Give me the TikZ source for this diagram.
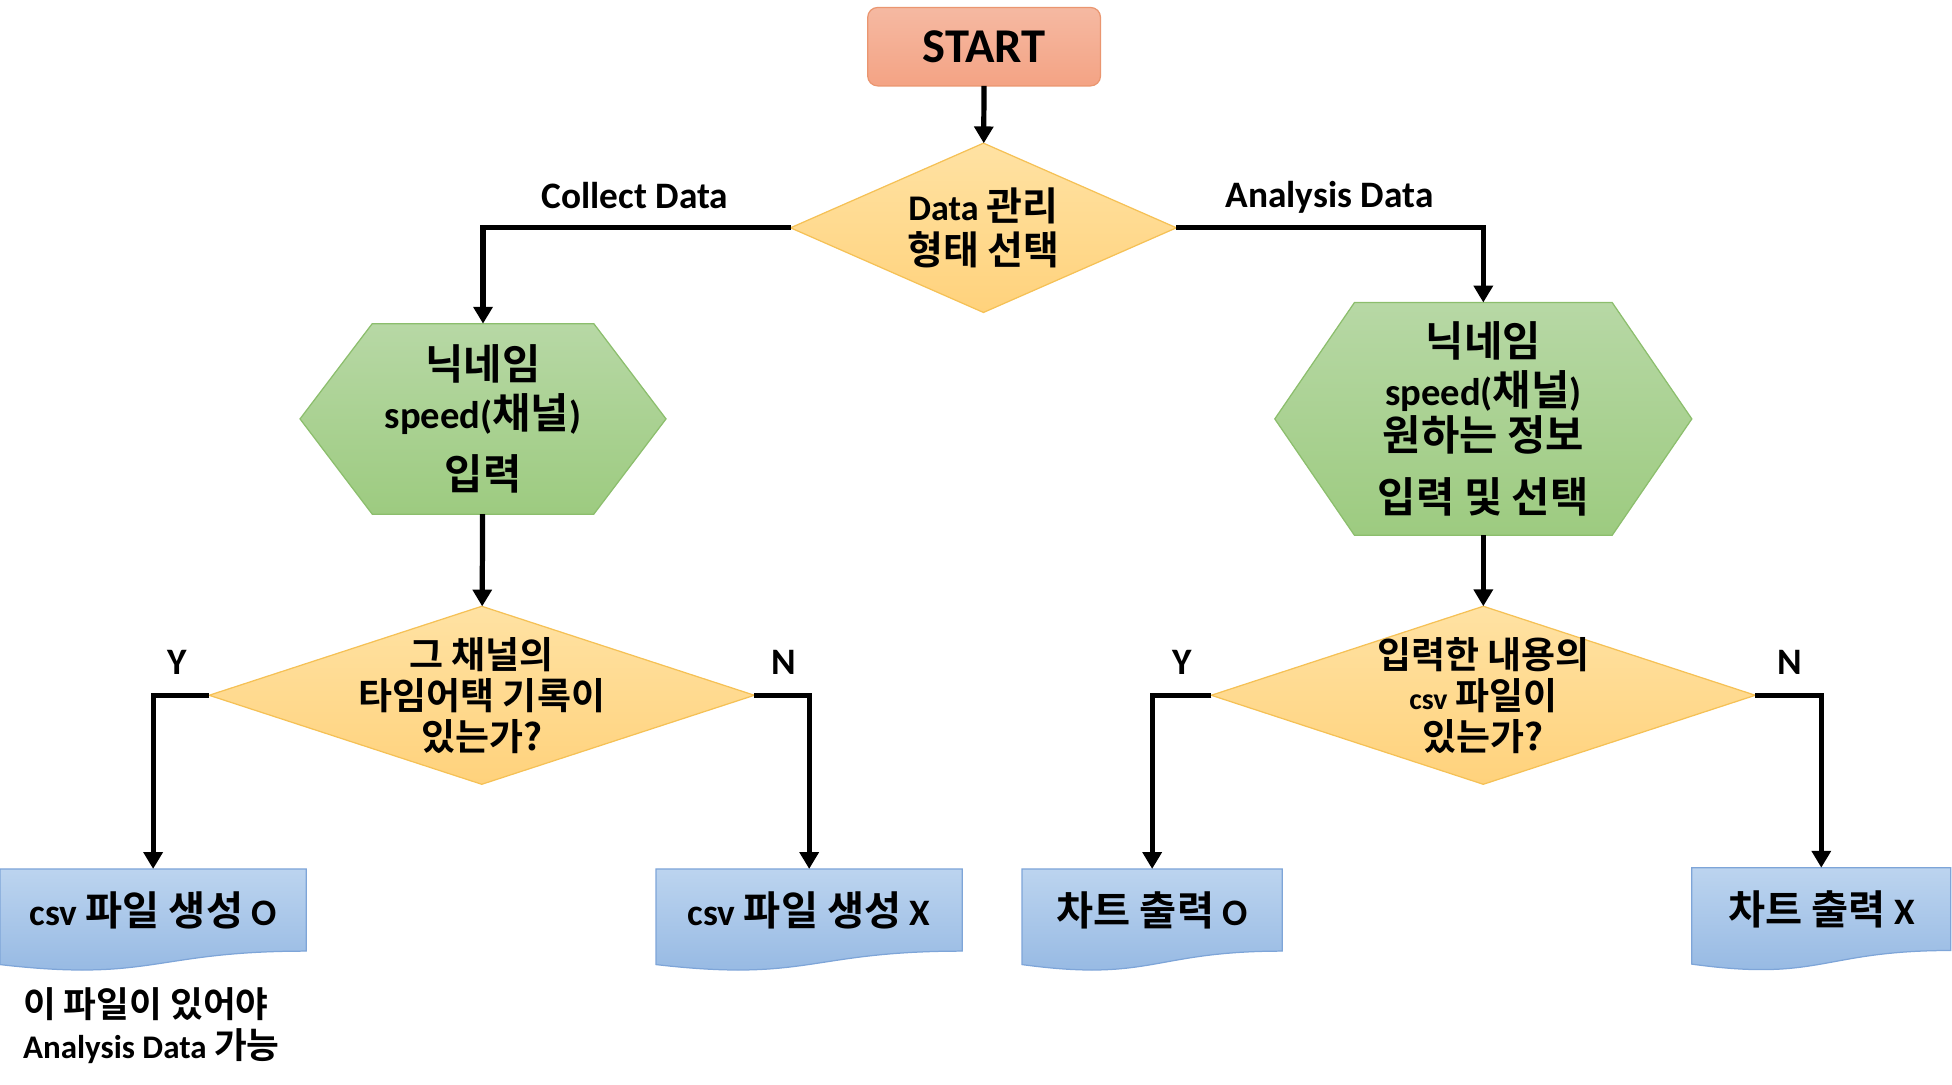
\documentclass[tikz,border=0pt]{standalone}
\usepackage{fontspec}
\setmainfont{Carlito Bold}
\newfontfamily\krfont{Noto Sans CJK KR Bold}[Scale=1.08]
\newcommand{\krt}[1]{{\krfont #1}}
\usetikzlibrary{arrows.meta, shapes.geometric, backgrounds, calc}

\definecolor{startT}{HTML}{F5B9A2}
\definecolor{startB}{HTML}{F4A384}
\definecolor{startD}{HTML}{EA9670}
\definecolor{decT}{HTML}{FFE2A3}
\definecolor{decB}{HTML}{FFD27C}
\definecolor{decD}{HTML}{F5C156}
\definecolor{hexT}{HTML}{B7D8A5}
\definecolor{hexB}{HTML}{9DCB80}
\definecolor{hexD}{HTML}{8CBE6D}
\definecolor{docT}{HTML}{BCD4EF}
\definecolor{docB}{HTML}{93B7E2}
\definecolor{docD}{HTML}{7EA5D8}

\tikzset{
  base/.style={inner sep=0pt, outer sep=0pt, line width=1pt},
  startbox/.style={base, rectangle, rounded corners=8pt, draw=startD, top color=startT, bottom color=startB,
    minimum width=187pt, minimum height=63pt, font=\fontsize{39}{41}\selectfont},
  decision/.style={base, diamond, draw=decD, top color=decT, bottom color=decB},
  dectext/.style={align=center, font=\fontsize{27.5}{33}\selectfont},
  hexbox/.style={base, rectangle, align=center, font=\fontsize{31}{39}\selectfont},
  hexfill/.style={line width=1pt, draw=hexD, top color=hexT, bottom color=hexB},
  docbox/.style={base, rectangle, font=\fontsize{30}{32}\selectfont},
  docfill/.style={line width=1pt, draw=docD, top color=docT, bottom color=docB},
  lbl/.style={font=\fontsize{30}{31}\selectfont},
  line/.style={line width=4.2pt},
  arrow/.style={line, -{Triangle[length=13.5pt, width=15pt]}}
}

% hexagon under a hexbox node: #1 node, #2 chamfer
\newcommand{\hexshape}[2]{%
  \begin{scope}[on background layer]
    \path[hexfill] ($(#1.north west)+(#2,0)$) -- ($(#1.north east)+(-#2,0)$) -- (#1.east)
      -- ($(#1.south east)+(-#2,0)$) -- ($(#1.south west)+(#2,0)$) -- (#1.west) -- cycle;
  \end{scope}}
% document shape under a docbox node: #1 node, #2 full height
\newcommand{\docshape}[2]{%
  \begin{scope}[on background layer]
    \path[docfill] (#1.north west) -- (#1.north east) -- (#1.south east)
      .. controls (#1.south) and ($(#1.south)+(0,#2*0.305)$) .. ($(#1.south west)+(0,#2*0.132)$) -- cycle;
  \end{scope}}

\begin{document}
\begin{tikzpicture}[x=1pt, y=-1pt]
  \useasboundingbox (0,0) rectangle (1568,871.5);

  \node[startbox] (start) at (790.5,37.5) {START};

  \node[decision, minimum width=310pt, minimum height=136pt,
    label={[dectext, font=\fontsize{29}{35}\selectfont]center:Data \krt{관리}\\\krt{형태 선택}}] (d1) at (790,183) {};

  \node[hexbox, minimum width=294pt, minimum height=153pt] (hex1) at (388,336.5)
    {\krt{닉네임}\\speed(\krt{채널})\\[10pt]\krt{입력}};
  \node[hexbox, minimum width=335pt, minimum height=187pt, font=\fontsize{31}{36}\selectfont] (hex2) at (1191.5,336.5)
    {\krt{닉네임}\\[3pt]speed(\krt{채널})\\\krt{원하는 정보}\\[14pt]\krt{입력 및 선택}};
  \hexshape{hex1}{58}
  \hexshape{hex2}{64}

  \node[decision, minimum width=438pt, minimum height=143pt,
    label={[dectext]center:\krt{그 채널의}\\\krt{타임어택 기록이}\\\krt{있는가?}}] (d2) at (387,558.5) {};
  \node[decision, minimum width=437pt, minimum height=143pt,
    label={[dectext]center:\krt{입력한 내용의}\\{\fontsize{24}{33}\selectfont csv} \krt{파일이}\\\krt{있는가?}}] (d3) at (1191.5,558.5) {};

  % result documents
  \node[docbox, anchor=north, minimum width=246pt, minimum height=66pt] (b1) at (123,698) {csv \krt{파일 생성} O};
  \node[docbox, anchor=north, minimum width=246pt, minimum height=66pt] (b2) at (650,698) {csv \krt{파일 생성} X};
  \node[docbox, anchor=north, minimum width=209pt, minimum height=66pt] (b3) at (925.5,698) {\krt{차트 출력} O};
  \node[docbox, anchor=north, minimum width=208pt, minimum height=66.5pt] (b4) at (1463,697) {\krt{차트 출력} X};
  \docshape{b1}{82}
  \docshape{b2}{82}
  \docshape{b3}{82}
  \docshape{b4}{83}

  \node[lbl, align=left, anchor=north west, font=\fontsize{26.5}{32.5}\selectfont] (note) at (15,790)
    {\krt{이 파일이 있어야}\\Analysis Data \krt{가능}};

  % branch labels
  \node[lbl] (lcd) at (510,157) {Collect Data};
  \node[lbl] (lad) at (1068,158.5) {Analysis Data};
  \node[lbl] (y1) at (142,532) {Y};
  \node[lbl] (n1) at (630,532) {N};
  \node[lbl] (y2) at (950,532) {Y};
  \node[lbl] (n2) at (1438,532) {N};

  % connectors
  \draw[arrow] (start) -- (d1);
  \draw[arrow] (d1.west) -| (hex1.north);
  \draw[arrow] (d1.east) -| (hex2.north);
  \draw[arrow] (hex1) -- (d2);
  \draw[arrow] (hex2) -- (d3);
  \draw[arrow] (d2.west) -| (b1.north);
  \draw[arrow] (d2.east) -| (b2.north);
  \draw[arrow] (d3.west) -| (b3.north);
  \draw[arrow] (d3.east) -| (b4.north);
\end{tikzpicture}
\end{document}
